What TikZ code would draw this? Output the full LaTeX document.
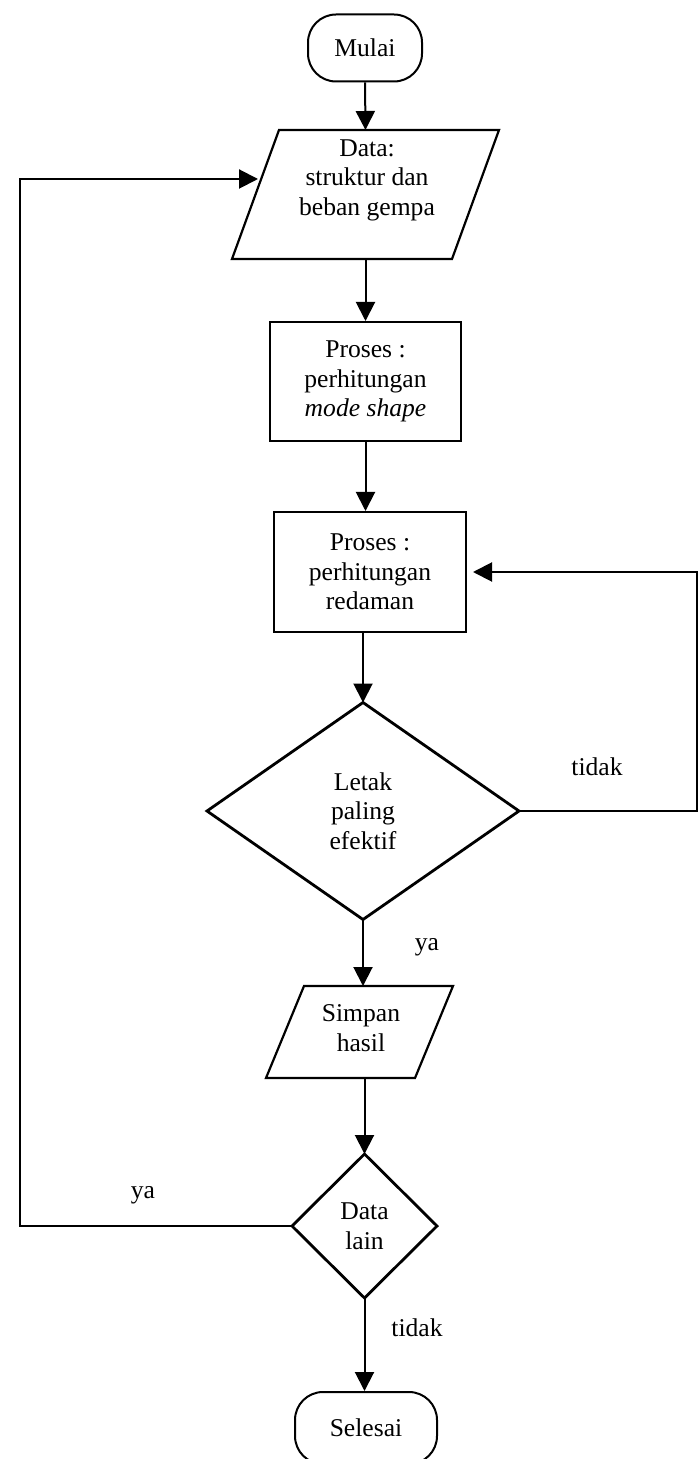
\documentclass[tikz,border=0pt]{standalone}
\usepackage{fontspec}
\setmainfont{Liberation Serif}
\usetikzlibrary{arrows.meta}
\begin{document}
\begin{tikzpicture}[x=0.5pt,y=-0.5pt,
  font=\fontsize{12.8}{14.75}\selectfont,
  line width=1pt,
  arr/.style={-{Triangle[length=9.5pt,width=9.5pt]}},
  term/.style={draw, rounded corners=14pt, inner sep=0pt, align=center},
  proc/.style={draw, inner sep=0pt, align=center},
  hidden/.style={inner sep=0pt, align=center},
  shapeline/.style={line width=1.1pt, line join=miter},
  dline/.style={line width=1.4pt, line join=miter},
  lbl/.style={inner sep=0pt}]
\useasboundingbox (0,0) rectangle (699,1459);

% nodes
\node[term, minimum width=57pt, minimum height=33.5pt] (mulai) at (365,48) {Mulai};

\node[hidden, minimum width=132.5pt, minimum height=63.5pt] (data) at (365.5,194.5) {};
\draw[shapeline] ([xshift=23.5pt]data.north west) -- (data.north east)
  -- ([xshift=-23.5pt]data.south east) -- (data.south west) -- cycle;
\node[hidden] (datatxt) at (367,180) {Data:\\struktur dan\\beban gempa};

\node[proc, minimum width=95.5pt, minimum height=59.5pt] (p1) at (365.5,381.5)
  {Proses :\\perhitungan\\\textit{mode shape}};
\node[proc, minimum width=96pt, minimum height=60pt] (p2) at (370,572)
  {Proses :\\perhitungan\\redaman};

\node[hidden, minimum width=155pt, minimum height=107.5pt] (d1) at (363,811)
  {Letak\\paling\\efektif};
\draw[dline] (d1.north) -- (d1.east) -- (d1.south) -- (d1.west) -- cycle;

\node[hidden, minimum width=92.5pt, minimum height=45pt] (simpan) at (359.5,1032) {};
\draw[shapeline] ([xshift=19pt]simpan.north west) -- (simpan.north east)
  -- ([xshift=-19pt]simpan.south east) -- (simpan.south west) -- cycle;
\node[hidden] (simpantxt) at (361,1028) {Simpan\\hasil};

\node[hidden, minimum width=71.5pt, minimum height=71pt] (d2) at (364.5,1226)
  {Data\\lain};
\draw[dline] (d2.north) -- (d2.east) -- (d2.south) -- (d2.west) -- cycle;

\node[term, minimum width=71pt, minimum height=36pt] (selesai) at (366,1428) {Selesai};

% connectors
\draw[arr] (mulai.south) -- (data.north);
\draw[arr] (data.south) -- (p1.north);
\draw[arr] (p1.south) -- (p1.south |- p2.north);
\draw[arr] (d1.north |- p2.south) -- (d1.north);
\draw[arr] (d1.south) -- (d1.south |- simpan.north);
\draw[arr] (simpan.south -| d2.north) -- (d2.north);
\draw[arr] (d2.south) -- (d2.south |- selesai.north);

\coordinate (lt) at (20,179);
\coordinate (din) at (258,179);
\draw[arr] (d2.west) -- (d2.west -| lt) -- (lt) -- (din);

\coordinate (rt) at (697,572);
\draw[arr] (d1.east) -- (d1.east -| rt) -- (rt) -- ([xshift=3pt]p2.east);

% labels
\node[lbl] (l1) at (597,767) {tidak};
\node[lbl] (l2) at (427,947) {ya};
\node[lbl] (l3) at (143,1195) {ya};
\node[lbl] (l4) at (417,1328) {tidak};
\end{tikzpicture}
\end{document}
